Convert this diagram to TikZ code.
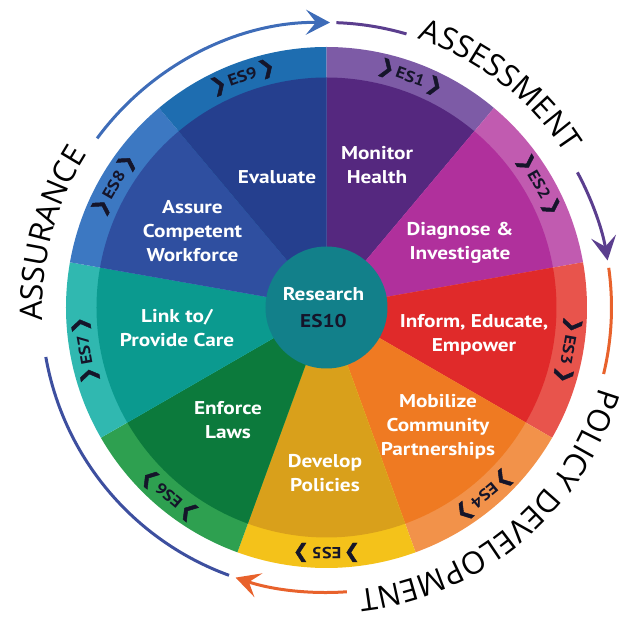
\documentclass[tikz,border=0pt]{standalone}
\usepackage{fontspec}
\setmainfont{PT Sans}
\newfontfamily\wedgeface[FakeStretch=1.15]{PT Sans}
\newfontfamily\phaseface{Open Sans}
\newfontfamily\chevfont[FakeBold=2.5]{DejaVu Sans}
\usetikzlibrary{arrows.meta,decorations.text}
\definecolor{esdark}{HTML}{15152A}
\definecolor{bandA}{HTML}{7D5BA6}\definecolor{wedgeA}{HTML}{55287F}
\definecolor{bandB}{HTML}{C15BB0}\definecolor{wedgeB}{HTML}{B0309C}
\definecolor{bandC}{HTML}{E8544C}\definecolor{wedgeC}{HTML}{E02A2A}
\definecolor{bandD}{HTML}{F2924A}\definecolor{wedgeD}{HTML}{EF7A22}
\definecolor{bandE}{HTML}{F4C21A}\definecolor{wedgeE}{HTML}{D9A01B}
\definecolor{bandF}{HTML}{2EA050}\definecolor{wedgeF}{HTML}{0C7A3C}
\definecolor{bandG}{HTML}{30B8B0}\definecolor{wedgeG}{HTML}{0B9A8F}
\definecolor{bandH}{HTML}{3C78C2}\definecolor{wedgeH}{HTML}{2F4FA0}
\definecolor{bandI}{HTML}{1E6DB0}\definecolor{wedgeI}{HTML}{253F8E}
\definecolor{hub}{HTML}{12808A}
\definecolor{cycblue}{HTML}{3E6CB8}
\definecolor{cycpurple}{HTML}{5B3E8E}
\definecolor{cycorange}{HTML}{E8622C}
\definecolor{cycnavy}{HTML}{3D4F9F}
\newcommand{\wedgefont}{\wedgeface\fontsize{18.5}{24}\selectfont\bfseries}
\newcommand{\esfont}{\wedgeface\fontsize{16}{16}\selectfont\bfseries}
\newcommand{\outerfont}{\phaseface\fontsize{31}{31}\selectfont}
\newcommand{\chev}{{\chevfont\fontsize{19}{19}\selectfont ❯}}
\tikzset{wedgelabel/.style={text=white,align=center,font=\wedgefont,inner sep=0pt},
  eslabel/.style={text=esdark,font=\esfont,inner sep=0pt},
  cycline/.style={line width=3pt},
  cycarrow/.style={line width=3pt,-{Stealth[length=24pt,width=25pt,inset=10pt]}},
  phasetext/.style={decorate,decoration={text along path,text align=center,
    text color=black}}}

\begin{document}
\begin{tikzpicture}[x=1pt,y=1pt]
\useasboundingbox (-326.5,-312.5) rectangle (298.5,307.5);
% the nine wedges with their outer bands
\foreach \a/\band/\fillc/\n in {70/bandA/wedgeA/1,30/bandB/wedgeB/2,-10/bandC/wedgeC/3,
  -50/bandD/wedgeD/4,-90/bandE/wedgeE/5,-130/bandF/wedgeF/6,-170/bandG/wedgeG/7,
  150/bandH/wedgeH/8,110/bandI/wedgeI/9}{
  \fill[\band] (0,0) -- (\a+20:260.5) arc[start angle=\a+20,end angle=\a-20,radius=260.5] -- cycle;
  \fill[\fillc] (0,0) -- (\a+20:230) arc[start angle=\a+20,end angle=\a-20,radius=230] -- cycle;
  \node[eslabel,rotate=\a-90] (es\n) at (\a:245) {\chev\,ES\n\,\chev};
}
\fill[hub] (0,0) circle[radius=61];
\node[wedgelabel] (research) at (-3,0) {Research\\[3pt]{\color{esdark}ES10}};
\node[wedgelabel] (monitor) at (50.5,142.5) {Monitor\\Health};
\node[wedgelabel] (diagnose) at (133.5,64.5) {Diagnose \&\\Investigate};
\node[wedgelabel] (inform) at (147.5,-27.5) {Inform, Educate,\\Empower};
\node[wedgelabel] (mobilize) at (111.5,-119.5) {Mobilize\\Community\\Partnerships};
\node[wedgelabel] (develop) at (-1.5,-165.5) {Develop\\Policies};
\node[wedgelabel] (enforce) at (-98.5,-113) {Enforce\\Laws};
\node[wedgelabel] (link) at (-149.5,-20.5) {Link to/\\Provide Care};
\node[wedgelabel] (assure) at (-134,76.5) {Assure\\Competent\\Workforce};
\node[wedgelabel] (evaluate) at (-49.5,130.5) {Evaluate};
% phase names round the wheel
\path[phasetext,decoration={text={|\outerfont|ASSESSMENT}}]
  (96:284) arc[start angle=96,end angle=8,radius=284];
\path[phasetext,decoration={text={|\outerfont|POLICY DEVELOPMENT}}]
  (2:284) arc[start angle=2,end angle=-102,radius=284];
\path[phasetext,decoration={text={|\outerfont|ASSURANCE}}]
  (210:284) arc[start angle=210,end angle=120,radius=284];
% the cycle arrows
\coordinate (assuranceEnd) at (143.6:285);
\coordinate (assessStart) at (88:285);
\coordinate (assessEnd) at (28.3:285);
\coordinate (policyStart) at (8:285);
\coordinate (policyEnd) at (-85.9:285);
\coordinate (navyStart) at (190:285);
\draw[cycarrow,cycblue] (assuranceEnd) arc[start angle=143.6,end angle=89.3,radius=285];
\draw[cycline,cycpurple] (assessStart) arc[start angle=88,end angle=73.7,radius=285];
\draw[cycarrow,cycpurple] (assessEnd) arc[start angle=28.3,end angle=9.5,radius=285];
\draw[cycline,cycorange] (policyStart) arc[start angle=8,end angle=-13.5,radius=285];
\draw[cycarrow,cycorange] (policyEnd) arc[start angle=-85.9,end angle=-108.6,radius=285];
\draw[cycline,cycnavy] (navyStart) arc[start angle=190,end angle=250,radius=285];
\end{tikzpicture}
\end{document}
